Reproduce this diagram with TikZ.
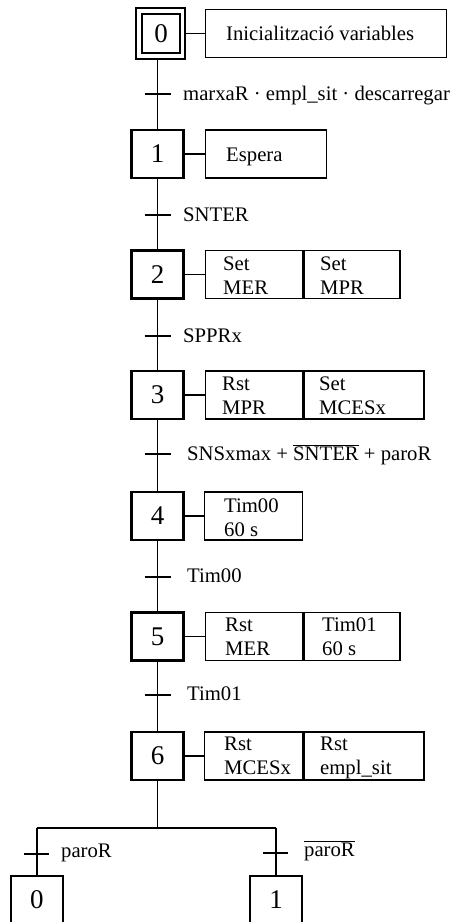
\documentclass[tikz,border=0pt]{standalone}
\usepackage{fontspec}
\setmainfont{Liberation Serif}
\newcommand\ovl[1]{\ensuremath{\overline{\hbox{#1}}}}
\begin{document}
\begin{tikzpicture}[x=1pt,y=-1pt,
  every node/.style={font=\fontsize{20.7}{24}\selectfont},
  stepbox/.style={draw, line width=2.2pt, minimum width=52pt, minimum height=48pt, inner sep=0pt, font=\fontsize{27}{30}\selectfont},
  actbox/.style={draw, line width=1.3pt, minimum height=48pt, inner sep=0pt, anchor=west},
  acttext/.style={anchor=north west, align=left, inner sep=0pt},
  acttextone/.style={anchor=base west, inner sep=0pt},
  link/.style={line width=1.6pt},
  bar/.style={line width=1.5pt},
  cond/.style={anchor=base west, inner sep=0pt}]
\clip (0,0) rectangle (456,922);
% steps
\node[stepbox, minimum width=49pt, minimum height=51pt] (s0) at (160.5,33.5) {};
\node[stepbox, minimum width=38pt, minimum height=39pt] (s0i) at (161,33.5) {0};
\node[stepbox] (s1) at (157.5,154) {1};
\node[stepbox] (s2) at (157.5,274.5) {2};
\node[stepbox] (s3) at (157.5,395) {3};
\node[stepbox] (s4) at (157.5,516) {4};
\node[stepbox] (s5) at (157.5,636.5) {5};
\node[stepbox] (s6) at (157.5,756) {6};
\node[stepbox] (b0) at (37,900) {0};
\node[stepbox] (b1) at (276,900) {1};
% actions
\node[actbox, minimum width=241pt] (a0) at (205,33.5) {};
\node[acttextone] (a0t) at (226,40.5) {Inicialització variables};
\node[actbox, minimum width=121pt] (a1) at (205,154) {};
\node[acttextone] (a1t) at (226,161) {Espera};
\node[actbox, minimum width=97pt] (a2a) at (205,274.5) {};
\node[actbox, minimum width=96pt] (a2b) at (a2a.east) {};
\node[acttext] (a2at) at (223,256.5) {Set\\MER};
\node[acttext] (a2bt) at (320,256.5) {Set\\MPR};
\node[actbox, minimum width=97pt] (a3a) at (205,395) {};
\node[actbox, minimum width=120pt] (a3b) at (a3a.east) {};
\node[acttext] (a3at) at (222,377) {Rst\\MPR};
\node[acttext] (a3bt) at (319,377) {Set\\MCESx};
\node[actbox, minimum width=98pt] (a4) at (204,516) {};
\node[acttext] (a4t) at (224,498.5) {Tim00\\60 s};
\node[actbox, minimum width=97pt] (a5a) at (205,636.5) {};
\node[actbox, minimum width=96pt] (a5b) at (a5a.east) {};
\node[acttext] (a5at) at (225,618) {Rst\\MER};
\node[acttext] (a5bt) at (322,618) {Tim01\\60 s};
\node[actbox, minimum width=98pt] (a6a) at (204,756) {};
\node[actbox, minimum width=120pt] (a6b) at (a6a.east) {};
\node[acttext] (a6at) at (224,737) {Rst\\MCESx};
\node[acttext] (a6bt) at (320,737) {Rst\\empl\_sit};
% action links
\draw[link] (s0.east) -- (a0.west);
\draw[link] (s1.east) -- (a1.west);
\draw[link] (s2.east) -- (a2a.west);
\draw[link] (s3.east) -- (a3a.west);
\draw[link] (s4.east) -- (a4.west);
\draw[link] (s5.east) -- (a5a.west);
\draw[link] (s6.east) -- (a6a.west);
% spine
\draw[link] (s0.south -| s1.north) -- (s1.north);
\draw[link] (s1.south) -- (s2.north);
\draw[link] (s2.south) -- (s3.north);
\draw[link] (s3.south) -- (s4.north);
\draw[link] (s4.south) -- (s5.north);
\draw[link] (s5.south) -- (s6.north);
% transitions
\coordinate (t0) at (157.5,94);
\coordinate (t1) at (157.5,215);
\coordinate (t2) at (157.5,336);
\coordinate (t3) at (157.5,454);
\coordinate (t4) at (157.5,577);
\coordinate (t5) at (157.5,695);
\foreach \t in {t0,t1,t2,t3,t4,t5}{\draw[bar] ([xshift=-13pt]\t) -- ([xshift=13pt]\t);}
\node[cond] (c0) at (183,100.5) {marxaR · empl\_sit · descarregar};
\node[cond] (c1) at (183,221.5) {SNTER};
\node[cond] (c2) at (183,342.5) {SPPRx};
\node[cond] (c3) at (187,460) {SNSxmax + \ovl{SNTER} + paroR};
\node[cond] (c4) at (187,582) {Tim00};
\node[cond] (c5) at (187,700.5) {Tim01};
% divergence
\coordinate (fork) at (157.5,828);
\draw[link] (s6.south) -- (fork);
\draw[link] (fork -| b0.north) -- (fork -| b1.north);
\draw[link] (fork -| b0.north) -- (b0.north);
\draw[link] (fork -| b1.north) -- (b1.north);
\coordinate (tb0) at (37,854);
\coordinate (tb1) at (276,853);
\draw[bar] ([xshift=-13pt]tb0) -- ([xshift=12pt]tb0);
\draw[bar] ([xshift=-13pt]tb1) -- ([xshift=12pt]tb1);
\node[cond] (cb0) at (61,857.5) {paroR};
\node[cond] (cb1) at (304,856.5) {\ovl{paroR}};
\end{tikzpicture}
\end{document}
